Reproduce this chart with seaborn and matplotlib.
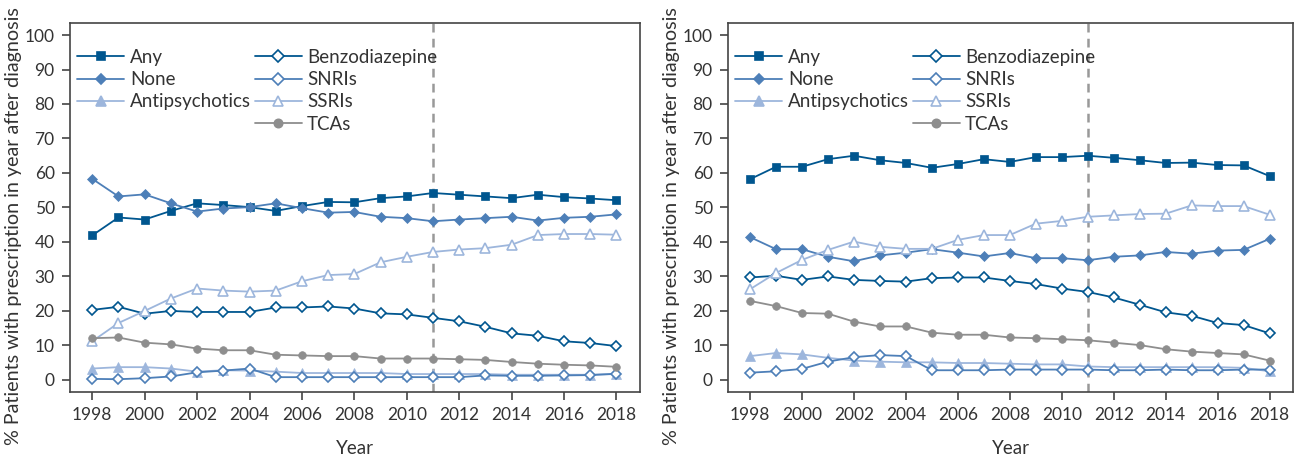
import matplotlib
matplotlib.use("Agg")
import matplotlib.pyplot as plt
from matplotlib.lines import Line2D
import numpy as np
import pandas as pd
import seaborn as sns

years = list(range(1998, 2019))

# left panel
left_any = [41.9, 47.1, 46.5, 49.0, 51.2, 50.7, 50.1, 49.0, 50.4, 51.6, 51.5,
            52.7, 53.2, 54.2, 53.7, 53.2, 52.7, 53.7, 53.0, 52.6, 52.1]
left_none = [58.3, 53.2, 53.8, 51.2, 48.8, 49.7, 50.1, 51.2, 49.8, 48.5, 48.7,
             47.3, 46.9, 46.0, 46.5, 46.9, 47.3, 46.2, 47.0, 47.3, 48.0]
left_antipsy = [3.3, 3.7, 3.7, 3.3, 2.4, 2.8, 2.7, 2.4, 2.0, 2.0, 2.0,
                2.0, 1.7, 1.7, 1.7, 1.7, 1.5, 1.5, 1.5, 1.5, 1.7]
left_benzo = [20.3, 21.2, 19.2, 20.0, 19.7, 19.7, 19.7, 21.0, 21.0, 21.3, 20.7,
              19.3, 19.0, 18.0, 17.0, 15.4, 13.5, 12.8, 11.2, 10.7, 9.8]
left_snri = [0.3, 0.2, 0.5, 1.0, 2.2, 2.7, 3.3, 0.8, 0.8, 0.8, 0.8,
             0.8, 0.8, 0.8, 0.8, 1.3, 1.2, 1.2, 1.3, 1.4, 1.8]
left_ssri = [11.2, 16.5, 20.0, 23.6, 26.5, 25.9, 25.6, 25.9, 28.6, 30.4, 30.7,
             34.1, 35.7, 37.1, 37.8, 38.2, 39.2, 42.0, 42.3, 42.3, 42.1]
left_tca = [12.1, 12.3, 10.8, 10.3, 9.1, 8.6, 8.6, 7.3, 7.1, 6.9, 6.9,
            6.2, 6.2, 6.2, 6.0, 5.8, 5.2, 4.7, 4.4, 4.2, 3.8]

# right panel
right_any = [58.2, 61.8, 61.8, 64.0, 65.0, 63.7, 62.9, 61.5, 62.6, 64.0, 63.2,
             64.6, 64.6, 65.0, 64.4, 63.7, 62.9, 63.0, 62.3, 62.2, 59.1]
right_none = [41.4, 37.9, 37.9, 35.7, 34.4, 36.1, 36.9, 37.9, 36.9, 35.8, 36.8,
              35.3, 35.3, 34.7, 35.7, 36.1, 37.1, 36.6, 37.5, 37.7, 40.9]
right_antipsy = [6.9, 7.8, 7.4, 6.4, 5.6, 5.3, 5.1, 5.1, 4.9, 4.9, 4.7,
                 4.5, 4.5, 3.9, 3.7, 3.7, 3.7, 3.7, 3.7, 3.5, 2.5]
right_benzo = [29.7, 30.2, 29.0, 30.0, 29.0, 28.7, 28.5, 29.5, 29.7, 29.7, 28.7,
               27.8, 26.5, 25.5, 23.9, 21.8, 19.6, 18.6, 16.5, 15.9, 13.5]
right_snri = [2.1, 2.5, 3.2, 5.3, 6.6, 7.2, 6.9, 2.8, 2.8, 2.8, 3.0,
              3.0, 3.0, 3.0, 2.8, 2.8, 3.0, 2.8, 2.8, 3.0, 3.0]
right_ssri = [26.3, 31.0, 34.8, 37.7, 40.1, 38.6, 38.0, 38.0, 40.6, 42.0, 42.0,
              45.3, 46.1, 47.3, 47.7, 48.1, 48.2, 50.6, 50.4, 50.4, 47.9]
right_tca = [22.9, 21.4, 19.4, 19.2, 16.9, 15.5, 15.5, 13.7, 13.1, 13.1, 12.3,
             12.1, 11.8, 11.5, 10.8, 10.1, 8.9, 8.2, 7.8, 7.4, 5.6]

series_names = ["Any", "None", "Antipsychotics", "Benzodiazepine", "SNRIs", "SSRIs", "TCAs"]
left_values = [left_any, left_none, left_antipsy, left_benzo, left_snri, left_ssri, left_tca]
right_values = [right_any, right_none, right_antipsy, right_benzo, right_snri, right_ssri, right_tca]

dark = "#00568f"
mid = "#4d7fb8"
light = "#9db6dc"
grey = "#8e8e8e"
# (colour, marker, filled, size)
styles = {
    "Any": (dark, "s", True, 5.5),
    "None": (mid, "D", True, 5),
    "Antipsychotics": (light, "^", True, 6.5),
    "Benzodiazepine": (dark, "D", False, 5.5),
    "SNRIs": (mid, "D", False, 5.5),
    "SSRIs": (light, "^", False, 7),
    "TCAs": (grey, "o", True, 5.5),
}

sns.set_theme(style="white")
plt.rcParams["font.family"] = ["Lato", "DejaVu Sans"]
text_col = "#333333"

fig = plt.figure(figsize=(13.03, 4.59), dpi=100)
ax_l = fig.add_axes([0.0537, 0.146, 0.4375, 0.804])
ax_r = fig.add_axes([0.5587, 0.146, 0.4336, 0.804])


def draw_panel(ax, values):
    df = pd.DataFrame({"Year": years})
    for name, vals in zip(series_names, values):
        df[name] = vals
    long = df.melt(id_vars="Year", var_name="series", value_name="pct")
    for name in series_names:
        col, mk, filled, ms = styles[name]
        sub = long[long["series"] == name]
        sns.lineplot(data=sub, x="Year", y="pct", ax=ax, color=col, lw=1.3,
                     marker=mk, markersize=ms,
                     markerfacecolor=col if filled else "white",
                     markeredgecolor=col, markeredgewidth=1.2 if not filled else 0.5,
                     legend=False)
    ax.axvline(2011, color="#999999", ls=(0, (3.5, 2.5)), lw=1.8, zorder=0)
    ax.set_xlim(1997.15, 2018.9)
    ax.set_ylim(-3.5, 103.5)
    ax.set_xticks(range(1998, 2019, 2))
    ax.set_yticks(range(0, 101, 10))
    ax.set_xlabel("Year", fontsize=13.5, color=text_col, labelpad=12)
    ax.set_ylabel("% Patients with prescription in year after diagnosis", fontsize=14.2,
                  color=text_col)
    ax.yaxis.set_label_coords(-0.085, 0.45)
    ax.tick_params(axis="both", which="major", direction="out", length=6, width=1.2,
                   colors="#444444", labelsize=12.5, labelcolor=text_col,
                   left=True, bottom=True, pad=5)
    for sp in ax.spines.values():
        sp.set_color("#444444")
        sp.set_linewidth(1.2)

    handles = []
    labels = []
    for name in series_names:
        col, mk, filled, ms = styles[name]
        handles.append(Line2D([], [], color=col, lw=1.3, marker=mk, markersize=ms + 0.5,
                              markerfacecolor=col if filled else "white",
                              markeredgecolor=col, markeredgewidth=1.2))
        labels.append(name)
    blank = Line2D([], [], color="none")
    handles = handles[:3] + [blank] + handles[3:]
    labels = labels[:3] + [""] + labels[3:]
    leg = ax.legend(handles, labels, ncol=2, loc="upper left", frameon=False,
                    fontsize=13.5, handlelength=2.5, handletextpad=0.3,
                    columnspacing=0.2, labelspacing=0.28,
                    bbox_to_anchor=(0.0, 0.95), borderaxespad=0.0)
    for t in leg.get_texts():
        t.set_color(text_col)


draw_panel(ax_l, left_values)
draw_panel(ax_r, right_values)

fig.savefig("out.png", dpi=100)
